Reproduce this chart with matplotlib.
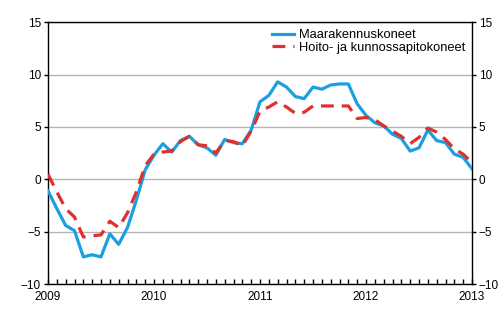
import matplotlib
matplotlib.use("Agg")
import matplotlib.pyplot as plt
import numpy as np

# Monthly annual change (%), Jan 2009 .. Jan 2013
maarakennus = [
    -1.1, -2.8, -4.4, -4.9, -7.4, -7.2, -7.4, -5.2, -6.2, -4.6, -2.0, 0.9,
    2.3, 3.4, 2.6, 3.7, 4.1, 3.3, 3.0, 2.3, 3.8, 3.5, 3.4, 4.7,
    7.4, 8.0, 9.3, 8.8, 7.9, 7.7, 8.8, 8.6, 9.0, 9.1, 9.1, 7.2,
    6.1, 5.4, 5.1, 4.3, 3.9, 2.7, 3.0, 4.7, 3.7, 3.5, 2.4, 2.1,
    1.0,
]
hoito = [
    0.5, -1.2, -2.8, -3.6, -5.5, -5.4, -5.3, -4.0, -4.6, -3.2, -1.2, 1.3,
    2.4, 2.6, 2.7, 3.6, 4.1, 3.3, 3.2, 2.5, 3.7, 3.6, 3.2, 4.6,
    6.5, 6.9, 7.4, 6.9, 6.3, 6.4, 7.0, 7.0, 7.0, 7.0, 7.0, 5.8,
    5.9, 5.7, 5.1, 4.6, 4.1, 3.4, 4.0, 4.9, 4.5, 3.8, 2.9, 2.4,
    1.6,
]
year_labels = ["2009", "2010", "2011", "2012", "2013"]
series_names = ["Maarakennuskoneet", "Hoito- ja kunnossapitokoneet"]

plt.rcParams["font.family"] = ["Liberation Sans", "DejaVu Sans"]
plt.rcParams["font.size"] = 8.5

x = 2009 + np.arange(len(maarakennus)) / 12

fig = plt.figure(figsize=(5, 3.3), dpi=100)
ax = fig.add_axes([0.096, 0.139, 0.848, 0.794])

ax.plot(x, maarakennus, color="#1a9fe0", lw=2.3, label=series_names[0], zorder=3)
ax.plot(x, hoito, color="#e0302e", lw=2.3, dashes=(4, 2.5), label=series_names[1], zorder=4)

ax.set_xlim(2009, 2013)
ax.set_ylim(-10, 15)
ax.set_yticks([-10, -5, 0, 5, 10, 15])
ax.set_xticks([2009, 2010, 2011, 2012, 2013])
ax.set_xticklabels(year_labels)
ax.set_xticks(2009 + np.arange(49) / 12, minor=True)
ax.grid(axis="y", color="#b4b4b4", lw=1)
ax.set_axisbelow(True)

ax.tick_params(axis="y", direction="out", length=3, width=1, left=True, right=True,
               labelleft=True, labelright=True, pad=2, labelsize=8.5)
ax.tick_params(axis="x", which="major", direction="in", length=3.5, width=1, pad=5, labelsize=8.5)
ax.tick_params(axis="x", which="minor", direction="in", length=3.5, width=1)
for s in ax.spines.values():
    s.set_linewidth(1)

leg = ax.legend(loc="upper right", bbox_to_anchor=(1.0, 1.0), frameon=False,
                handlelength=1.7, handletextpad=0.35, labelspacing=0.05,
                borderaxespad=0.15, fontsize=9.3)

fig.savefig("out.png", dpi=100)
